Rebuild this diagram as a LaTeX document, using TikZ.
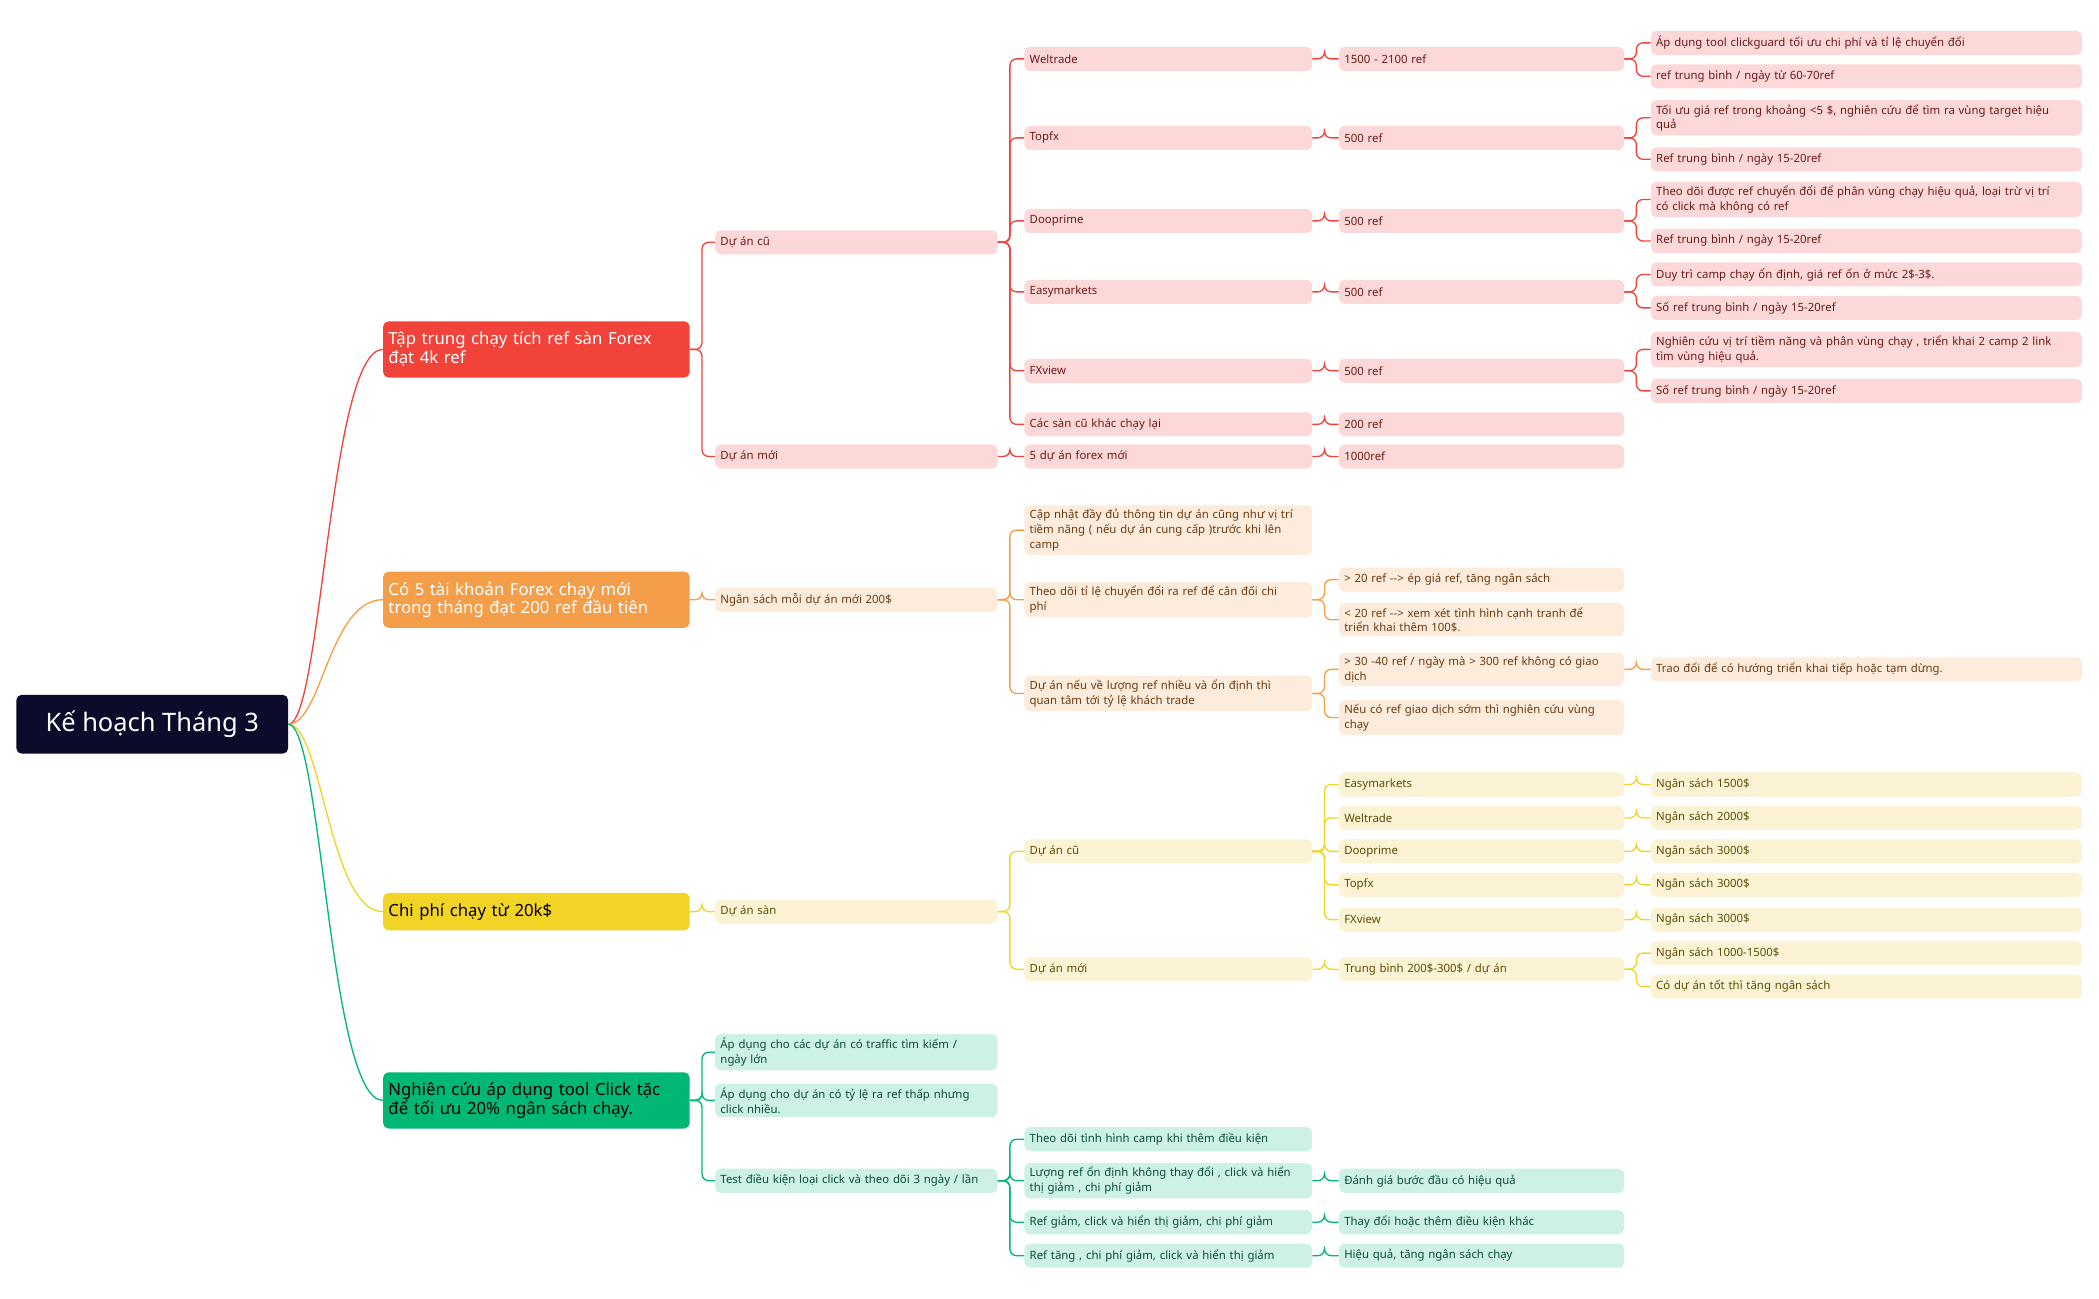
\documentclass[tikz,border=0pt]{standalone}
\usepackage{fontspec}
\setmainfont{Noto Sans}
\usetikzlibrary{positioning}

\definecolor{rootC}{HTML}{0B0B2B}
\definecolor{redC}{HTML}{F2433B}
\definecolor{redL}{HTML}{FDD8D8}
\definecolor{redT}{HTML}{6B1A16}
\definecolor{orgC}{HTML}{F59E4A}
\definecolor{orgL}{HTML}{FDEBDC}
\definecolor{orgT}{HTML}{6B3A10}
\definecolor{yelC}{HTML}{F2D426}
\definecolor{yelL}{HTML}{FBF3D3}
\definecolor{yelT}{HTML}{5C4C06}
\definecolor{grnC}{HTML}{00B873}
\definecolor{grnL}{HTML}{CDF1E3}
\definecolor{grnT}{HTML}{0B4F35}

\tikzset{
  box/.style={rounded corners=4pt, inner xsep=4pt, inner ysep=3pt, minimum height=18pt,
    align=left, anchor=west, font=\fontsize{8.5}{11}\selectfont},
  rleaf/.style={box, fill=redL, text=redT},
  oleaf/.style={box, fill=orgL, text=orgT},
  yleaf/.style={box, fill=yelL, text=yelT},
  gleaf/.style={box, fill=grnL, text=grnT},
  topic/.style={box, minimum height=42pt, font=\fontsize{12.5}{14}\selectfont\bfseries},
  redE/.style={draw=redC, line width=1pt, rounded corners=5pt},
  orgE/.style={draw=orgC, line width=1pt, rounded corners=5pt},
  yelE/.style={draw=yelC, line width=1pt, rounded corners=5pt},
  grnE/.style={draw=grnC, line width=1pt, rounded corners=5pt},
}
% node at column x, row y (pixels from top), width
\newcommand{\bx}[6]{\node[#5, text width=\dimexpr#4pt-8pt\relax] (#1) at (#2,-#3) {#6};}

\begin{document}
\begin{tikzpicture}[x=1pt, y=1pt]
\useasboundingbox (0,0) rectangle (1568,-970);

% root and main topics
\node[box, fill=rootC, text=white, minimum width=203pt, minimum height=44pt, align=center,
  font=\fontsize{19}{22}\selectfont\bfseries] (root) at (12,-541) {Kế hoạch Tháng 3};
\bx{t1}{286}{261}{229}{topic, fill=redC, text=white}{Tập trung chạy tích ref sàn Forex\\đạt 4k ref}
\bx{t2}{286}{448}{229}{topic, fill=orgC, text=white}{Có 5 tài khoản Forex chạy mới\\trong tháng đạt 200 ref đầu tiên}
\bx{t3}{286}{681}{229}{topic, fill=yelC, text=black, minimum height=28pt}{Chi phí chạy từ 20k\$}
\bx{t4}{286}{822}{229}{topic, fill=grnC, text=black}{Nghiên cứu áp dụng tool Click tặc\\để tối ưu 20\% ngân sách chạy.}

% red branch
\bx{r1}{534}{181}{211}{rleaf}{Dự án cũ}
\bx{r2}{534}{341}{211}{rleaf}{Dự án mới}
\bx{ra}{765}{44}{215}{rleaf}{Weltrade}
\bx{rb}{765}{103}{215}{rleaf}{Topfx}
\bx{rc}{765}{165}{215}{rleaf}{Dooprime}
\bx{rd}{765}{218}{215}{rleaf}{Easymarkets}
\bx{re}{765}{277}{215}{rleaf}{FXview}
\bx{rf}{765}{317}{215}{rleaf}{Các sàn cũ khác chạy lại}
\bx{rg}{765}{341}{215}{rleaf}{5 dự án forex mới}
\bx{rna}{1000}{44}{213}{rleaf}{1500 - 2100 ref}
\bx{rnb}{1000}{103}{213}{rleaf}{500 ref}
\bx{rnc}{1000}{165}{213}{rleaf}{500 ref}
\bx{rnd}{1000}{218}{213}{rleaf}{500 ref}
\bx{rne}{1000}{277}{213}{rleaf}{500 ref}
\bx{rnf}{1000}{317}{213}{rleaf}{200 ref}
\bx{rng}{1000}{341}{213}{rleaf}{1000ref}
\bx{ra1}{1233}{32}{322}{rleaf}{Áp dụng tool clickguard tối ưu chi phí và tỉ lệ chuyển đổi}
\bx{ra2}{1233}{57}{322}{rleaf}{ref trung bình / ngày từ 60-70ref}
\bx{rb1}{1233}{88}{322}{rleaf}{Tối ưu giá ref trong khoảng <5 \$, nghiên cứu để tìm ra vùng target hiệu\\quả}
\bx{rb2}{1233}{119}{322}{rleaf}{Ref trung bình / ngày 15-20ref}
\bx{rc1}{1233}{149}{322}{rleaf}{Theo dõi được ref chuyển đổi để phân vùng chạy hiệu quả, loại trừ vị trí\\có click mà không có ref}
\bx{rc2}{1233}{180}{322}{rleaf}{Ref trung bình / ngày 15-20ref}
\bx{rd1}{1233}{205}{322}{rleaf}{Duy trì camp chạy ổn định, giá ref ổn ở mức 2\$-3\$.}
\bx{rd2}{1233}{230}{322}{rleaf}{Số ref trung bình / ngày 15-20ref}
\bx{re1}{1233}{261}{322}{rleaf}{Nghiên cứu vị trí tiềm năng và phân vùng chạy , triển khai 2 camp 2 link\\tìm vùng hiệu quả.}
\bx{re2}{1233}{292}{322}{rleaf}{Số ref trung bình / ngày 15-20ref}

% orange branch
\bx{o1}{534}{448}{211}{oleaf}{Ngân sách mỗi dự án mới 200\$}
\bx{oa}{765}{396}{215}{oleaf}{Cập nhật đầy đủ thông tin dự án cũng như vị trí\\tiềm năng ( nếu dự án cung cấp )trước khi lên\\camp}
\bx{ob}{765}{448}{215}{oleaf}{Theo dõi tỉ lệ chuyển đổi ra ref để cân đối chi\\phí}
\bx{oc}{765}{518}{215}{oleaf}{Dự án nếu về lượng ref nhiều và ổn định thì\\quan tâm tới tỷ lệ khách trade}
\bx{ob1}{1000}{433}{213}{oleaf}{> 20 ref -{}-> ép giá ref, tăng ngân sách}
\bx{ob2}{1000}{463}{213}{oleaf}{< 20 ref -{}-> xem xét tình hình cạnh tranh để\\triển khai thêm 100\$.}
\bx{oc1}{1000}{500}{213}{oleaf}{> 30 -40 ref / ngày mà > 300 ref không có giao\\dịch}
\bx{oc2}{1000}{536}{213}{oleaf}{Nếu có ref giao dịch sớm thì nghiên cứu vùng\\chạy}
\bx{oc1a}{1233}{500}{322}{oleaf}{Trao đổi để có hướng triển khai tiếp hoặc tạm dừng.}

% yellow branch
\bx{y1}{534}{681}{211}{yleaf}{Dự án sàn}
\bx{ya}{765}{636}{215}{yleaf}{Dự án cũ}
\bx{yb}{765}{724}{215}{yleaf}{Dự án mới}
\bx{ya1}{1000}{586}{213}{yleaf}{Easymarkets}
\bx{ya2}{1000}{611}{213}{yleaf}{Weltrade}
\bx{ya3}{1000}{636}{213}{yleaf}{Dooprime}
\bx{ya4}{1000}{661}{213}{yleaf}{Topfx}
\bx{ya5}{1000}{687}{213}{yleaf}{FXview}
\bx{yb1}{1000}{724}{213}{yleaf}{Trung bình 200\$-300\$ / dự án}
\bx{yn1}{1233}{586}{322}{yleaf}{Ngân sách 1500\$}
\bx{yn2}{1233}{611}{322}{yleaf}{Ngân sách 2000\$}
\bx{yn3}{1233}{636}{322}{yleaf}{Ngân sách 3000\$}
\bx{yn4}{1233}{661}{322}{yleaf}{Ngân sách 3000\$}
\bx{yn5}{1233}{687}{322}{yleaf}{Ngân sách 3000\$}
\bx{ym1}{1233}{712}{322}{yleaf}{Ngân sách 1000-1500\$}
\bx{ym2}{1233}{737}{322}{yleaf}{Có dự án tốt thì tăng ngân sách}

% green branch
\bx{g1}{534}{786}{211}{gleaf}{Áp dụng cho các dự án có traffic tìm kiếm /\\ngày lớn}
\bx{g2}{534}{822}{211}{gleaf}{Áp dụng cho dự án có tỷ lệ ra ref thấp nhưng\\click nhiều.}
\bx{g3}{534}{882}{211}{gleaf}{Test điều kiện loại click và theo dõi 3 ngày / lần}
\bx{ga}{765}{851}{215}{gleaf}{Theo dõi tình hình camp khi thêm điều kiện}
\bx{gb}{765}{882}{215}{gleaf}{Lượng ref ổn định không thay đổi , click và hiển\\thị giảm , chi phí giảm}
\bx{gc}{765}{913}{215}{gleaf}{Ref giảm, click và hiển thị giảm, chi phí giảm}
\bx{gd}{765}{938}{215}{gleaf}{Ref tăng , chi phí giảm, click và hiển thị giảm}
\bx{gb1}{1000}{882}{213}{gleaf}{Đánh giá bước đầu có hiệu quả}
\bx{gc1}{1000}{913}{213}{gleaf}{Thay đổi hoặc thêm điều kiện khác}
\bx{gd1}{1000}{938}{213}{gleaf}{Hiệu quả, tăng ngân sách chạy}

% connectors
\foreach \b/\c in {t1/redC, t2/orgC, t3/yelC, t4/grnC}
  \draw[\c, line width=1pt] (root.east) .. controls +(25,0) and +(-40,0) .. (\b.west);
\foreach \a/\b in {t1/r1, t1/r2, r1/ra, r1/rb, r1/rc, r1/rd, r1/re, r1/rf, r2/rg,
  ra/rna, rb/rnb, rc/rnc, rd/rnd, re/rne, rf/rnf, rg/rng,
  rna/ra1, rna/ra2, rnb/rb1, rnb/rb2, rnc/rc1, rnc/rc2, rnd/rd1, rnd/rd2, rne/re1, rne/re2}
  \draw[redE] (\a.east) -- ++(9,0) |- (\b.west);
\foreach \a/\b in {t2/o1, o1/oa, o1/ob, o1/oc, ob/ob1, ob/ob2, oc/oc1, oc/oc2, oc1/oc1a}
  \draw[orgE] (\a.east) -- ++(9,0) |- (\b.west);
\foreach \a/\b in {t3/y1, y1/ya, y1/yb, ya/ya1, ya/ya2, ya/ya3, ya/ya4, ya/ya5, yb/yb1,
  ya1/yn1, ya2/yn2, ya3/yn3, ya4/yn4, ya5/yn5, yb1/ym1, yb1/ym2}
  \draw[yelE] (\a.east) -- ++(9,0) |- (\b.west);
\foreach \a/\b in {t4/g1, t4/g2, t4/g3, g3/ga, g3/gb, g3/gc, g3/gd, gb/gb1, gc/gc1, gd/gd1}
  \draw[grnE] (\a.east) -- ++(9,0) |- (\b.west);
\end{tikzpicture}
\end{document}
